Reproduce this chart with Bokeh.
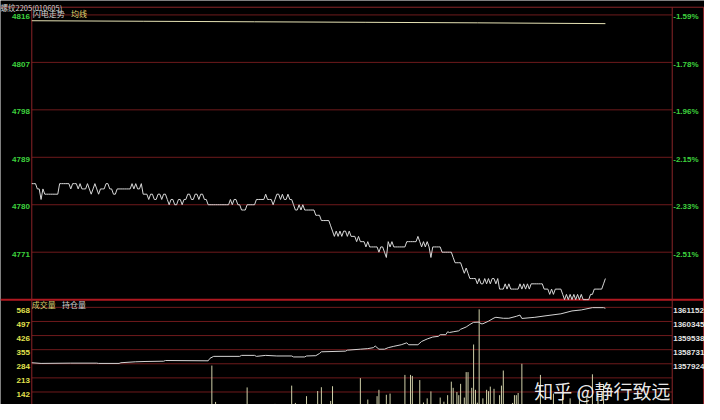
from bokeh.plotting import figure
from bokeh.models import Range1d
from bokeh.core.properties import value
from bokeh.embed import file_html
from bokeh.resources import INLINE

# ---------------- data ----------------
title_text = "螺纹2205(010605)"
price_ticks = [4816, 4807, 4798, 4789, 4780, 4771]
pct_labels = ["-1.59%", "-1.78%", "-1.96%", "-2.15%", "-2.33%", "-2.51%"]
vol_ticks = [568, 497, 426, 355, 284, 213, 142]
oi_ticks = [1361152, 1360345, 1359538, 1358731, 1357924]

# one price per minute (minute 0 .. 309)
price = [
    4784, 4784, 4784, 4783, 4783, 4781, 4783, 4782, 4782, 4782,
    4782, 4782, 4782, 4782, 4782, 4784, 4784, 4784, 4784, 4784,
    4784, 4783, 4784, 4784, 4784, 4783, 4784, 4783, 4783, 4783,
    4784, 4783, 4782, 4783, 4784, 4783, 4782, 4783, 4783, 4783,
    4784, 4784, 4783, 4783, 4782, 4782, 4783, 4783, 4783, 4783,
    4783, 4783, 4783, 4783, 4784, 4783, 4784, 4783, 4783, 4784,
    4782, 4782, 4782, 4781, 4782, 4782, 4781, 4781, 4782, 4782,
    4781, 4782, 4782, 4781, 4780, 4781, 4781, 4780, 4780, 4781,
    4781, 4780, 4781, 4781, 4782, 4782, 4781, 4781, 4782, 4782,
    4781, 4782, 4782, 4781, 4781, 4780, 4780, 4780, 4780, 4780,
    4780, 4780, 4780, 4780, 4780, 4780, 4780, 4781, 4780, 4781,
    4781, 4780, 4780, 4779, 4779, 4779, 4780, 4780, 4780, 4780,
    4780, 4781, 4781, 4781, 4781, 4781, 4782, 4781, 4781, 4781,
    4780, 4781, 4782, 4782, 4781, 4782, 4781, 4781, 4782, 4781,
    4781, 4780, 4779, 4779, 4780, 4779, 4780, 4779, 4779, 4779,
    4779, 4779, 4779, 4778, 4778, 4778, 4777, 4777, 4777, 4777,
    4777, 4776, 4775, 4774, 4775, 4774, 4775, 4774, 4775, 4775,
    4774, 4775, 4774, 4774, 4774, 4773, 4774, 4773, 4773, 4773,
    4772, 4773, 4772, 4772, 4772, 4772, 4772, 4771, 4772, 4772,
    4771, 4770, 4773, 4772, 4773, 4772, 4772, 4772, 4772, 4772,
    4772, 4772, 4773, 4773, 4773, 4773, 4773, 4773, 4774, 4773,
    4772, 4773, 4772, 4773, 4772, 4770, 4772, 4772, 4772, 4772,
    4772, 4771, 4771, 4771, 4771, 4771, 4771, 4770, 4769, 4769,
    4769, 4769, 4768, 4767, 4768, 4767, 4766, 4766, 4766, 4766,
    4765, 4766, 4765, 4765, 4766, 4765, 4766, 4765, 4766, 4766,
    4765, 4766, 4764, 4764, 4764, 4765, 4764, 4765, 4764, 4764,
    4764, 4764, 4764, 4765, 4764, 4765, 4764, 4765, 4764, 4765,
    4765, 4765, 4765, 4765, 4765, 4765, 4764, 4764, 4764, 4763,
    4764, 4763, 4764, 4764, 4764, 4764, 4763, 4762, 4763, 4762,
    4763, 4762, 4763, 4762, 4763, 4762, 4763, 4762, 4762, 4762,
    4762, 4763, 4763, 4764, 4764, 4764, 4764, 4764, 4765, 4766,
]

avg_minutes = [0, 60, 120, 180, 240, 309]
avg_values = [4814.9, 4814.8, 4814.7, 4814.6, 4814.5, 4814.35]

vol_minutes = [97, 99, 116, 131, 140, 142, 148, 154, 156, 161, 162, 177, 181, 186, 187,
               191, 193, 201, 204, 205, 209, 211, 213, 215, 220, 222, 224, 226, 227, 229,
               230, 231, 233, 234, 235, 237, 238, 239, 240, 241, 243, 245, 246, 247, 249,
               252, 253, 254, 259, 260, 261, 262, 264, 274, 281, 286, 290, 295, 299, 302,
               305, 308]
vol_values = [275, 92, 165, 82, 174, 87, 121, 147, 166, 97, 171, 212, 104, 121, 153,
              128, 134, 228, 228, 223, 202, 89, 110, 145, 114, 93, 126, 194, 163, 142,
              126, 183, 114, 242, 242, 163, 381, 153, 88, 558, 110, 153, 146, 169, 158,
              126, 174, 250, 87, 126, 126, 137, 284, 228, 134, 126, 110, 150, 120, 231,
              140, 180]

oi_minutes = [0, 5, 21, 35, 36, 47, 48, 56, 61, 71, 72, 95, 96, 98, 112, 113, 120, 121,
              126, 132, 140, 141, 147, 148, 153, 155, 156, 169, 170, 177, 181, 184, 185,
              187, 190, 192, 195, 199, 202, 203, 208, 210, 213, 216, 219, 220, 223, 224,
              225, 227, 230, 231, 234, 236, 238, 241, 242, 243, 246, 249, 250, 254, 257,
              261, 263, 264, 271, 277, 285, 291, 296, 302, 308, 309]
oi_values = [1357983, 1357945, 1357961, 1357961, 1357945, 1357945, 1357983, 1358039,
             1358055, 1358072, 1358111, 1358094, 1358238, 1358348, 1358348, 1358404,
             1358404, 1358348, 1358404, 1358370, 1358370, 1358315, 1358315, 1358370,
             1358387, 1358514, 1358608, 1358647, 1358702, 1358758, 1358791, 1358846,
             1358940, 1358758, 1358758, 1358846, 1358923, 1359012, 1359123, 1359012,
             1359012, 1359200, 1359344, 1359454, 1359493, 1359587, 1359587, 1359753,
             1359714, 1359753, 1359808, 1359897, 1360029, 1360173, 1360295, 1360306,
             1360212, 1360212, 1360361, 1360544, 1360582, 1360527, 1360527, 1360638,
             1360710, 1360516, 1360582, 1360671, 1360781, 1360947, 1361003, 1361135,
             1361135, 1361097]

# ---------------- layout (reference pixel geometry) ----------------
W, H = 704, 404
SX, SY = W / 720, H / 420
REF_L, REF_R = 32, 687
REF_TOP, REF_SEP, REF_HDR, REF_EDGE = 15, 311, 7, 719
M_END = 345
P_TOP, P_BOT = 4816, 4762
V_A, V_B, REF_VA, REF_VB = 568, 142, 319, 407

ppm = (REF_R - REF_L) * SX / M_END
x0 = -REF_L * SX / ppm
x1 = M_END + (W - REF_R * SX) / ppm
u = (P_TOP - P_BOT) / ((REF_SEP - REF_TOP) * SY)
y_end = P_TOP + REF_TOP * SY * u
y_start = P_BOT - (H - REF_SEP * SY) * u
vu = (V_A - V_B) / ((REF_VB - REF_VA) * SY)
vol_end = V_A + REF_VA * SY * vu
vol_start = V_A - (H - REF_VA * SY) * vu
ou = (oi_ticks[0] - oi_ticks[1]) * 6 / ((REF_VB - REF_VA) * SY)
oi_end = oi_ticks[0] + REF_VA * SY * ou
oi_start = oi_ticks[0] - (H - REF_VA * SY) * ou


def py(ref_y):
    return y_end - ref_y * SY * u


def px(ref_x):
    return x0 + ref_x * SX / ppm


p = figure(width=W, height=H, x_range=Range1d(x0, x1), y_range=Range1d(y_start, y_end),
           output_backend="svg", toolbar_location=None, min_border=0,
           x_axis_location=None, y_axis_location=None,
           background_fill_color="black", border_fill_color="black",
           outline_line_color=None)
p.grid.visible = False
p.extra_y_ranges = {"vol": Range1d(vol_start, vol_end), "oi": Range1d(oi_start, oi_end)}

GRID = "#6e1a1c"
FRAME = "#8a2428"

# horizontal rules
p.segment(x0=[x0], y0=[py(REF_HDR)], x1=[x1], y1=[py(REF_HDR)], line_color=FRAME, line_width=1)
p.segment(x0=[0] * len(price_ticks), y0=price_ticks, x1=[M_END] * len(price_ticks),
          y1=price_ticks, line_color=GRID, line_width=1)
p.segment(x0=[0] * len(vol_ticks), y0=vol_ticks, x1=[M_END] * len(vol_ticks),
          y1=vol_ticks, line_color=GRID, line_width=1, y_range_name="vol")
p.segment(x0=[x0], y0=[P_BOT], x1=[x1], y1=[P_BOT], line_color="#b01820", line_width=2)
# vertical rules
p.segment(x0=[0, M_END, px(REF_EDGE)], y0=[py(REF_HDR)] * 3,
          x1=[0, M_END, px(REF_EDGE)], y1=[y_start] * 3, line_color=FRAME, line_width=1)

# volume bars and open interest
p.segment(x0=vol_minutes, y0=[0] * len(vol_minutes), x1=vol_minutes, y1=vol_values,
          line_color="#cfcfa8", line_width=1, y_range_name="vol")
p.line(oi_minutes, oi_values, line_color="#d4d4d4", line_width=1, y_range_name="oi")

# price and average
p.line(avg_minutes, avg_values, line_color="#e6e2b4", line_width=1)
p.line(list(range(len(price))), price, line_color="#d8d8d8", line_width=1)

F = value("Liberation Sans")
CJK = value("Noto Sans CJK SC")

p.text(x=[px(30)] * len(price_ticks), y=price_ticks, text=[str(t) for t in price_ticks],
       text_font=F, text_font_size="8px", text_font_style="bold", text_color="#3ed23e",
       text_align="right", text_baseline="middle", y_offset=2)
p.text(x=[px(688)] * len(price_ticks), y=price_ticks, text=pct_labels,
       text_font=F, text_font_size="8px", text_font_style="bold", text_color="#3ed23e",
       text_align="left", text_baseline="middle", y_offset=2)
p.text(x=[px(30)] * len(vol_ticks), y=vol_ticks, text=[str(t) for t in vol_ticks],
       text_font=F, text_font_size="8px", text_font_style="bold", text_color="#e2e24e",
       text_align="right", text_baseline="middle", y_offset=3, y_range_name="vol")
p.text(x=[px(688)] * len(oi_ticks), y=oi_ticks, text=[str(t) for t in oi_ticks],
       text_font=F, text_font_size="8px", text_font_style="bold", text_color="#e4e4e4",
       text_align="left", text_baseline="middle", y_offset=3, y_range_name="oi")

# header texts
p.text(x=[px(0)], y=[py(7.5)], text=[title_text], text_font=CJK, text_font_size="7.5px",
       text_color="#d0d0d0", text_align="left", text_baseline="alphabetic")
p.text(x=[px(33), px(72)], y=[py(13), py(13)], text=["闪电走势", "均线"], text_font=CJK,
       text_font_size="8px", text_color=["#cfcfcf", "#e0d870"], text_align="left",
       text_baseline="middle")
p.text(x=[px(32), px(63)], y=[py(316.5), py(316.5)], text=["成交量", "持仓量"], text_font=CJK,
       text_font_size="8px", text_color=["#d8d070", "#cfcfcf"], text_align="left",
       text_baseline="middle")

# watermark
p.text(x=[px(546)], y=[py(405)], text=["知乎 @静行致远"], text_font=CJK, text_font_size="19px",
       text_color="white", text_alpha=0.92, text_align="left", text_baseline="alphabetic")

open("out.html", "w").write(file_html(p, INLINE))
